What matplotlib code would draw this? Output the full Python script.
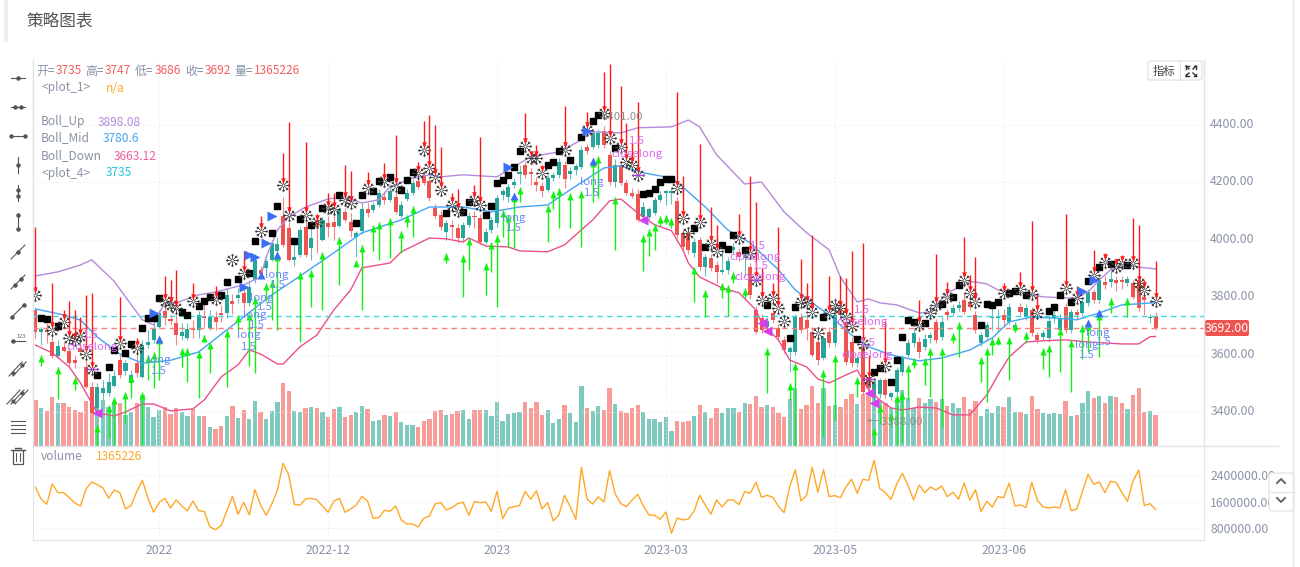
import math

import matplotlib
matplotlib.use('Agg')
import matplotlib.pyplot as plt
from matplotlib.markers import MarkerStyle
from matplotlib.patches import FancyBboxPatch, Rectangle
from matplotlib.path import Path
from matplotlib.transforms import ScaledTranslation

plt.rcParams['font.family'] = ['Noto Sans CJK SC', 'DejaVu Sans']

opens = [3756, 3679, 3686, 3645, 3595, 3628, 3613, 3581, 3622, 3556,
         3488, 3413, 3465, 3465, 3491, 3581, 3541, 3500, 3572, 3523,
         3634, 3651, 3697, 3750, 3723, 3709, 3663, 3657, 3692, 3686,
         3736, 3692, 3732, 3744, 3746, 3788, 3796, 3814, 3779, 3860,
         3895, 3900, 3930, 3960, 4081, 4040, 3930, 3947, 4046, 3970,
         4069, 4000, 4058, 4060, 4048, 4098, 4060, 4011, 4029, 4106,
         4104, 4121, 4150, 4139, 4148, 4081, 4141, 4162, 4203, 4226,
         4203, 4109, 4086, 4028, 4051, 4040, 4005, 4051, 4084, 4075,
         3993, 4034, 4057, 4156, 4150, 4190, 4229, 4260, 4237, 4202,
         4187, 4173, 4214, 4226, 4260, 4230, 4243, 4255, 4322, 4324,
         4330, 4377, 4295, 4202, 4260, 4197, 4164, 4159, 4080, 4080,
         4092, 4139, 4162, 4162, 4136, 4022, 4022, 3953, 3999, 3906,
         3935, 3912, 3889, 3895, 3964, 3958, 3935, 3906, 3755, 3726,
         3697, 3745, 3691, 3651, 3610, 3610, 3732, 3720, 3680, 3645,
         3587, 3680, 3639, 3755, 3715, 3645, 3569, 3627, 3523, 3453,
         3461, 3511, 3453, 3471, 3540, 3598, 3639, 3645, 3627, 3656,
         3715, 3662, 3749, 3744, 3761, 3790, 3784, 3738, 3639, 3662,
         3726, 3726, 3738, 3715, 3686, 3767, 3732, 3755, 3668, 3662,
         3656, 3726, 3686, 3767, 3686, 3749, 3744, 3779, 3819, 3790,
         3854, 3854, 3860, 3860, 3848, 3848, 3860, 3800, 3726, 3735]
closes = [3677, 3688, 3680, 3595, 3631, 3614, 3570, 3570, 3610, 3488,
          3396, 3486, 3483, 3504, 3527, 3529, 3570, 3529, 3535, 3634,
          3645, 3689, 3744, 3726, 3716, 3668, 3680, 3688, 3684, 3738,
          3726, 3732, 3715, 3738, 3808, 3776, 3808, 3779, 3837, 3930,
          3880, 3925, 3988, 3985, 3982, 3930, 3941, 4034, 3947, 4005,
          4046, 4069, 4046, 4044, 4104, 4069, 4029, 4023, 4106, 4092,
          4121, 4162, 4139, 4171, 4098, 4121, 4164, 4197, 4185, 4197,
          4145, 4084, 4046, 4057, 4046, 4005, 4051, 4084, 4078, 3993,
          4028, 4067, 4144, 4168, 4185, 4200, 4237, 4226, 4229, 4191,
          4168, 4214, 4226, 4272, 4210, 4240, 4257, 4313, 4310, 4371,
          4371, 4330, 4202, 4260, 4197, 4162, 4152, 4069, 4115, 4106,
          4139, 4156, 4168, 4168, 4017, 3976, 3964, 3993, 3906, 3939,
          3900, 3889, 3895, 3927, 3976, 3941, 3947, 3808, 3680, 3686,
          3718, 3720, 3660, 3616, 3622, 3730, 3686, 3691, 3598, 3581,
          3656, 3639, 3738, 3738, 3575, 3569, 3587, 3471, 3482, 3500,
          3511, 3459, 3465, 3546, 3587, 3639, 3674, 3610, 3654, 3668,
          3651, 3715, 3738, 3761, 3773, 3749, 3767, 3686, 3668, 3703,
          3732, 3732, 3720, 3767, 3703, 3749, 3761, 3674, 3651, 3674,
          3718, 3738, 3726, 3686, 3749, 3738, 3784, 3819, 3790, 3860,
          3842, 3862, 3848, 3854, 3862, 3802, 3761, 3790, 3732, 3692]
highs = [3761, 3697, 3709, 3668, 3651, 3645, 3628, 3599, 3639, 3576,
         3506, 3500, 3512, 3535, 3547, 3605, 3581, 3547, 3605, 3651,
         3686, 3709, 3756, 3779, 3738, 3738, 3709, 3709, 3721, 3750,
         3779, 3756, 3750, 3773, 3831, 3810, 3831, 3840, 3860, 3950,
         3910, 3935, 4000, 4010, 4150, 4060, 4011, 4045, 4060, 4046,
         4092, 4080, 4081, 4087, 4115, 4110, 4092, 4030, 4127, 4127,
         4130, 4175, 4170, 4185, 4165, 4135, 4175, 4210, 4225, 4240,
         4215, 4125, 4100, 4070, 4070, 4055, 4060, 4095, 4100, 4090,
         4040, 4080, 4155, 4175, 4195, 4215, 4260, 4270, 4250, 4220,
         4200, 4225, 4235, 4285, 4275, 4255, 4265, 4325, 4335, 4385,
         4385, 4395, 4310, 4280, 4275, 4210, 4180, 4175, 4133, 4115,
         4150, 4170, 4173, 4175, 4150, 4035, 4035, 4005, 4010, 3950,
         3950, 3925, 3964, 3940, 3990, 3970, 3960, 3920, 3770, 3740,
         3730, 3760, 3705, 3665, 3630, 3740, 3745, 3740, 3695, 3660,
         3665, 3695, 3750, 3770, 3730, 3660, 3600, 3640, 3545, 3510,
         3520, 3520, 3470, 3555, 3600, 3655, 3690, 3660, 3670, 3680,
         3725, 3730, 3760, 3775, 3785, 3810, 3800, 3750, 3680, 3715,
         3767, 3760, 3760, 3780, 3715, 3780, 3775, 3765, 3680, 3685,
         3730, 3760, 3740, 3780, 3760, 3760, 3795, 3830, 3830, 3875,
         3875, 3890, 3875, 3875, 3875, 3860, 3875, 3815, 3741, 3747]
lows = [3657, 3634, 3639, 3587, 3587, 3610, 3556, 3552, 3599, 3483,
        3396, 3396, 3442, 3454, 3488, 3517, 3529, 3483, 3523, 3517,
        3622, 3639, 3692, 3703, 3703, 3634, 3651, 3651, 3657, 3657,
        3697, 3686, 3686, 3715, 3726, 3740, 3779, 3760, 3770, 3850,
        3870, 3890, 3925, 3950, 3975, 3925, 3907, 3940, 3940, 3930,
        3953, 3995, 4011, 4000, 4045, 4060, 4011, 3941, 4020, 4080,
        4095, 4115, 4125, 4130, 4090, 4075, 4135, 4155, 4175, 4190,
        4135, 4075, 4035, 3999, 4005, 3990, 3995, 4045, 4040, 3985,
        3985, 4025, 4045, 4140, 4130, 4180, 4195, 4215, 4191, 4170,
        4150, 4165, 4205, 4215, 4179, 4210, 4225, 4245, 4300, 4315,
        4320, 4320, 4190, 4185, 4190, 4155, 4145, 4060, 4070, 4070,
        4085, 4130, 4121, 4125, 4005, 3965, 3950, 3940, 3895, 3872,
        3890, 3848, 3880, 3880, 3950, 3925, 3872, 3795, 3670, 3675,
        3690, 3710, 3650, 3605, 3540, 3600, 3675, 3650, 3590, 3564,
        3580, 3625, 3630, 3720, 3565, 3555, 3555, 3460, 3470, 3440,
        3450, 3450, 3440, 3460, 3530, 3590, 3625, 3587, 3615, 3640,
        3640, 3650, 3720, 3735, 3750, 3740, 3755, 3675, 3630, 3650,
        3686, 3680, 3700, 3705, 3680, 3735, 3720, 3665, 3640, 3650,
        3645, 3710, 3675, 3675, 3675, 3725, 3735, 3770, 3780, 3780,
        3830, 3835, 3820, 3830, 3840, 3795, 3750, 3738, 3709, 3686]
volumes = [2030000, 1680000, 1520000, 2130000, 1870000, 1870000, 1720000, 1560000, 1470000, 1980000,
           2190000, 2110000, 2010000, 1700000, 1950000, 1870000, 1380000, 1480000, 1900000, 2240000,
           1700000, 1280000, 1580000, 1700000, 1410000, 1650000, 1470000, 1320000, 1620000, 1330000,
           1300000, 840000, 760000, 880000, 1320000, 1760000, 1220000, 1580000, 1200000, 1960000,
           1500000, 1190000, 1530000, 1950000, 2750000, 2400000, 1520000, 1490000, 1680000, 1700000,
           1650000, 1470000, 1280000, 1610000, 1700000, 1280000, 1380000, 1500000, 1760000, 1620000,
           1100000, 1120000, 1340000, 1310000, 1470000, 1050000, 930000, 930000, 840000, 1100000,
           1170000, 1530000, 1570000, 1350000, 1420000, 1540000, 1580000, 1190000, 1600000, 1570000,
           1590000, 1310000, 1910000, 1090000, 1400000, 1450000, 1480000, 1910000, 1670000, 1930000,
           1380000, 1570000, 1020000, 1200000, 1790000, 1450000, 1070000, 2630000, 1670000, 1530000,
           1740000, 1590000, 2530000, 1830000, 1540000, 1450000, 1650000, 1820000, 1470000, 1200000,
           1190000, 1070000, 1290000, 650000, 1110000, 1050000, 1080000, 1310000, 1790000, 1500000,
           1220000, 1650000, 1440000, 1650000, 1650000, 1510000, 1900000, 1850000, 2180000, 1730000,
           1790000, 1730000, 1460000, 1270000, 2050000, 2560000, 1620000, 1790000, 2630000, 1880000,
           2560000, 1750000, 1780000, 1720000, 2040000, 2270000, 1850000, 2270000, 2240000, 2840000,
           1990000, 1870000, 1670000, 2120000, 2450000, 2100000, 1650000, 2100000, 1870000, 2040000,
           1950000, 2070000, 1750000, 1880000, 1670000, 2160000, 1640000, 1960000, 1300000, 1610000,
           1440000, 1750000, 1720000, 2160000, 1470000, 1500000, 1420000, 2180000, 1640000, 1440000,
           1410000, 1440000, 1410000, 1960000, 1330000, 1380000, 1900000, 2420000, 2120000, 2190000,
           1870000, 2210000, 2170000, 1880000, 1610000, 2220000, 2550000, 1480000, 1540000, 1365226]

# bollinger bands, as bar index / value pairs
up_bars = [0, 4, 8, 10, 14, 16, 19, 21, 22, 23, 25, 29, 32, 37, 40, 41, 43, 45, 48, 52, 55, 58, 61, 63,
           67, 70, 72, 76, 82, 84, 88, 93, 96, 99, 104, 107, 113, 116, 118, 121, 126, 129, 133, 137,
           141, 143, 146, 148, 150, 153, 157, 159, 162, 166, 167, 169, 171, 175, 179, 183, 185, 187,
           189, 191, 194, 199]
up_vals = [3874, 3888, 3912, 3930, 3855, 3801, 3721, 3703, 3745, 3780, 3780, 3808, 3818, 3843, 3870, 3940,
           4034, 4079, 4114, 4142, 4149, 4128, 4139, 4184, 4215, 4226, 4219, 4226, 4219, 4243, 4289,
           4306, 4337, 4376, 4372, 4390, 4393, 4417, 4393, 4296, 4194, 4201, 4097, 4024, 3965, 3870,
           3783, 3794, 3780, 3773, 3745, 3749, 3815, 3853, 3853, 3846, 3825, 3815, 3801, 3797, 3797,
           3818, 3860, 3895, 3909, 3898.08]
mid_bars = [0, 5, 8, 11, 15, 19, 24, 29, 34, 37, 42, 46, 53, 58, 65, 70, 76, 81, 86, 91, 95, 101, 104,
            108, 113, 115, 119, 123, 127, 132, 135, 139, 141, 145, 148, 152, 157, 161, 166, 170, 173,
            177, 181, 185, 189, 193, 199]
mid_vals = [3759, 3738, 3720, 3661, 3602, 3570, 3580, 3609, 3686, 3731, 3808, 3860, 3954, 4024, 4069,
            4114, 4114, 4097, 4114, 4121, 4174, 4250, 4257, 4233, 4215, 4184, 4114, 4034, 3989, 3895,
            3825, 3766, 3738, 3668, 3627, 3599, 3578, 3588, 3616, 3658, 3714, 3731, 3727, 3721, 3745,
            3773, 3780.6]
low_bars = [0, 3, 6, 8, 10, 11, 14, 16, 19, 21, 24, 28, 30, 33, 36, 38, 40, 43, 44, 47, 50, 53, 56, 58,
            63, 65, 70, 73, 76, 77, 80, 84, 86, 91, 94, 96, 99, 102, 104, 107, 110, 113, 115, 116, 118,
            122, 125, 128, 129, 132, 134, 137, 139, 141, 144, 146, 148, 150, 152, 154, 157, 160, 163,
            166, 169, 171, 173, 176, 179, 183, 187, 193, 196, 198, 199]
low_vals = [3633, 3606, 3557, 3501, 3431, 3397, 3386, 3400, 3428, 3428, 3404, 3411, 3442, 3522, 3564,
            3616, 3602, 3567, 3567, 3627, 3668, 3755, 3825, 3902, 3919, 3958, 4006, 4003, 3992, 4006,
            3978, 3975, 3961, 3958, 3982, 4017, 4069, 4135, 4142, 4093, 4052, 4031, 3965, 3919, 3870,
            3832, 3815, 3755, 3710, 3651, 3581, 3557, 3515, 3501, 3529, 3546, 3477, 3442, 3414, 3407,
            3417, 3414, 3390, 3390, 3459, 3529, 3592, 3644, 3648, 3651, 3644, 3637, 3637, 3662, 3663.12]

square_bars = [1, 2, 4, 11, 13, 14, 16, 17, 19, 20, 21, 22, 26, 27, 29, 30, 31, 33, 34, 36, 38, 39, 42, 43,
               46, 47, 49, 51, 54, 57, 58, 60, 61, 63, 65, 66, 67, 73, 76, 77, 80, 81, 82, 83, 84, 85, 86,
               91, 92, 93, 95, 97, 99, 100, 103, 108, 109, 110, 111, 112, 113, 117, 119, 122, 123, 124,
               126, 130, 134, 135, 140, 146, 149, 150, 152, 153, 154, 155, 156, 158, 161, 163, 164, 168,
               169, 170, 171, 173, 174, 176, 180, 181, 182, 184, 187, 189, 191, 194]
square_vals = [3729, 3723, 3700, 3529, 3555, 3616, 3607, 3637, 3694, 3726, 3726, 3796, 3747, 3737, 3769,
               3788, 3800, 3808, 3851, 3862, 3883, 3994, 4023, 4116, 3997, 4071, 4052, 4110, 4156, 4058,
               4156, 4171, 4205, 4218, 4174, 4208, 4235, 4092, 4096, 4133, 4085, 4119, 4199, 4208, 4226,
               4252, 4310, 4260, 4272, 4309, 4278, 4357, 4414, 4435, 4318, 4159, 4164, 4176, 4202, 4210,
               4210, 4040, 3974, 3982, 3968, 4017, 3964, 3773, 3659, 3767, 3732, 3653, 3540, 3552, 3506,
               3581, 3662, 3720, 3715, 3711, 3775, 3800, 3842, 3703, 3776, 3773, 3784, 3813, 3823, 3808,
               3752, 3765, 3808, 3784, 3857, 3904, 3916, 3911]
flake_bars = [0, 3, 5, 6, 7, 8, 9, 10, 15, 18, 23, 24, 25, 28, 32, 35, 37, 40, 44, 45, 48, 50, 52, 53, 55,
              56, 59, 62, 64, 68, 69, 70, 71, 72, 74, 75, 78, 79, 87, 88, 89, 90, 94, 98, 101, 102, 104,
              105, 106, 107, 114, 115, 116, 118, 120, 121, 125, 127, 128, 129, 131, 132, 133, 136, 137,
              138, 139, 141, 142, 143, 144, 145, 147, 148, 151, 157, 159, 160, 162, 165, 166, 167, 172,
              175, 177, 178, 183, 185, 188, 190, 192, 193, 195, 196, 197, 199]
flake_vals = [3808, 3686, 3715, 3657, 3650, 3663, 3602, 3549, 3639, 3622, 3785, 3773, 3761, 3785, 3793,
              3930, 3883, 4031, 4189, 4086, 4086, 4060, 4110, 4106, 4139, 4127, 4180, 4203, 4188, 4232,
              4313, 4249, 4220, 4173, 4121, 4100, 4139, 4121, 4327, 4284, 4284, 4231, 4313, 4382, 4440,
              4353, 4324, 4272, 4260, 4226, 4179, 4075, 4022, 4061, 3985, 3959, 4005, 3953, 3860, 3790,
              3796, 3761, 3718, 3784, 3778, 3749, 3674, 3744, 3773, 3761, 3732, 3700, 3636, 3514, 3560,
              3703, 3746, 3773, 3802, 3860, 3813, 3784, 3813, 3827, 3811, 3746, 3831, 3796, 3877, 3924,
              3906, 3918, 3918, 3848, 3825, 3788]
red_bars = [0, 3, 5, 6, 7, 8, 9, 10, 15, 18, 23, 24, 25, 28, 32, 37, 40, 44, 45, 48, 50, 52, 53, 55, 56, 59,
            62, 64, 68, 69, 70, 71, 72, 74, 75, 78, 79, 87, 88, 89, 90, 94, 98, 101, 102, 104, 105, 106,
            107, 114, 115, 118, 120, 121, 125, 127, 128, 129, 131, 132, 136, 137, 138, 141, 143, 144,
            145, 147, 148, 151, 157, 160, 162, 165, 166, 167, 172, 175, 177, 178, 183, 185, 188, 190,
            192, 193, 195, 196, 197, 199]
red_tops = [4046, 3848, 3756, 3788, 3755, 3732, 3808, 3814, 3802, 3657, 3874, 3860, 3893, 3848, 3840, 3959,
            4081, 4301, 4409, 4339, 4087, 4164, 4164, 4261, 4238, 4235, 4267, 4365, 4270, 4415, 4435,
            4400, 4324, 4162, 4176, 4191, 4359, 4440, 4300, 4330, 4260, 4466, 4446, 4583, 4612, 4536,
            4406, 4336, 4479, 4516, 4222, 4332, 4113, 4051, 4090, 4222, 4133, 3900, 3850, 4046, 3932,
            3850, 4017, 3872, 3872, 3866, 3959, 3988, 3598, 3718, 3790, 3949, 3854, 4009, 3877, 3941,
            3848, 3889, 4065, 3808, 4089, 3840, 3964, 3953, 3932, 3947, 4075, 4052, 3860, 3926]
green_bars = [1, 4, 7, 11, 13, 14, 16, 17, 19, 20, 21, 22, 26, 27, 29, 30, 31, 34, 36, 38, 39, 41, 42, 43,
              47, 49, 51, 54, 57, 58, 60, 61, 63, 65, 66, 67, 73, 76, 77, 80, 81, 82, 83, 84, 85, 86, 91,
              92, 93, 95, 97, 99, 100, 103, 108, 109, 110, 111, 112, 113, 117, 119, 122, 123, 124, 126,
              130, 134, 135, 140, 142, 146, 149, 150, 152, 153, 154, 155, 156, 158, 159, 161, 163, 164,
              168, 169, 170, 171, 173, 174, 176, 179, 180, 182, 184, 186, 187, 189, 191, 194]
green_tips = [3599, 3556, 3521, 3355, 3425, 3451, 3471, 3529, 3471, 3599, 3610, 3660, 3622, 3622, 3613,
              3668, 3645, 3686, 3738, 3744, 3802, 3850, 3860, 3951, 3889, 3895, 3957, 4009, 3930, 3982,
              4052, 4063, 4075, 4029, 4086, 4116, 3953, 3947, 4005, 3920, 3993, 4017, 4104, 4086, 4156,
              4185, 4121, 4168, 4179, 4162, 4168, 4278, 4292, 4150, 4017, 4037, 4054, 4084, 4086, 4077,
              3906, 3825, 3848, 3842, 3889, 3831, 3622, 3500, 3569, 3546, 3598, 3523, 3343, 3424, 3395,
              3459, 3471, 3564, 3587, 3587, 3622, 3622, 3674, 3714, 3593, 3622, 3656, 3660, 3662, 3709,
              3680, 3622, 3633, 3691, 3651, 3703, 3709, 3744, 3796, 3796]
green_tails = [3560, 3444, 3475, 3283, 3308, 3283, 3361, 3450, 3283, 3512, 3483, 3512, 3558, 3506, 3448,
               3645, 3537, 3488, 3686, 3560, 3535, 3785, 3721, 3686, 3645, 3767, 3755, 3843, 3907, 3755,
               3959, 3930, 3936, 3953, 4046, 4011, 3918, 3802, 3895, 3808, 3889, 3767, 4011, 3976, 3970,
               4133, 3991, 4106, 4040, 4042, 3974, 4133, 4144, 3964, 3891, 3945, 3964, 4049, 4055, 4040,
               3784, 3730, 3796, 3734, 3848, 3796, 3467, 3442, 3282, 3314, 3372, 3453, 3283, 3360, 3349,
               3283, 3291, 3442, 3552, 3494, 3453, 3349, 3639, 3593, 3506, 3436, 3598, 3633, 3511, 3680,
               3639, 3548, 3523, 3540, 3471, 3583, 3610, 3593, 3744, 3732]
entry_bars = [21, 37, 38, 39, 41, 42, 84, 98, 186, 188]
entry_vals = [3744, 3837, 3947, 3939, 3988, 4083, 4255, 4377, 3822, 3858]
long_bars = [22, 40, 43, 85, 99, 187, 189]
long_vals = [3653, 3877, 3947, 4152, 4274, 3709, 3746]
exit_bars = [11, 108, 129, 130, 148, 149]
exit_vals = [3396, 4069, 3711, 3682, 3465, 3430]
exit_flakes = [10, 107, 128, 148]

tick_bars = [22, 52, 82, 112, 142, 172]
tick_labels = ['2022', '2022-12', '2023', '2023-03', '2023-05', '2023-06']
price_ticks = [3400, 3600, 3800, 4000, 4200, 4400]
volume_ticks = [800000, 1600000, 2400000]

UP = '#26a69a'
DOWN = '#ef5350'
GRAY = '#8a93a6'
W, H = 1300, 567


def pane(left, top, right, bottom):
    return [left / W, 1 - bottom / H, (right - left) / W, (bottom - top) / H]


def offset_labels(labels, dx_px, dy_px):
    shift = ScaledTranslation(dx_px / 100, dy_px / 100, fig.dpi_scale_trans)
    for label in labels:
        label.set_transform(label.get_transform() + shift)


def snowflake_path():
    # eight spokes, each with a small fork near its end
    verts, codes = [], []
    for k in range(8):
        a = k * math.pi / 4
        verts += [(0.15 * math.cos(a), 0.15 * math.sin(a)), (math.cos(a), math.sin(a))]
        codes += [Path.MOVETO, Path.LINETO]
        fork = (0.62 * math.cos(a), 0.62 * math.sin(a))
        for side in (-0.6, 0.6):
            verts += [fork, (fork[0] + 0.3 * math.cos(a + side), fork[1] + 0.3 * math.sin(a + side))]
            codes += [Path.MOVETO, Path.LINETO]
    return Path(verts, codes)


fig = plt.figure(figsize=(13, 5.67), dpi=100, facecolor='white')
ax = fig.add_axes(pane(33, 60, 1204, 446))
ax_bars = ax.twinx()
ax_vol = fig.add_axes(pane(33, 446, 1204, 540))
overlay = fig.add_axes([0, 0, 1, 1], zorder=10)
overlay.set_xlim(0, W)
overlay.set_ylim(H, 0)
overlay.axis('off')

xs = list(range(len(closes)))
xlim = (-0.43, 207.6)

# volume columns sit under the candles
ax.set_zorder(2)
ax.patch.set_visible(False)
ax_bars.set_zorder(1)
ax_bars.set_ylim(0, 16930000)
ax_bars.set_yticks([])
bar_colors = ['#7fcabf' if c >= o else '#f89c9a' for o, c in zip(opens, closes)]
ax_bars.bar(xs, volumes, width=0.76, color=bar_colors)

ax.set_xlim(*xlim)
ax.set_ylim(3281.5, 4626)
ax.set_yticks(price_ticks)
ax.set_yticklabels(['%.2f' % p for p in price_ticks])
ax.set_xticks(tick_bars)
ax.tick_params(axis='x', length=0, labelbottom=False)
ax.yaxis.tick_right()
ax.tick_params(axis='y', length=0, pad=4.5, labelsize=8.8, labelcolor=GRAY)
ax.grid(True, color='#e9eaee', lw=0.8, ls=(0, (1, 2.5)))
ax.set_axisbelow(True)

# candles
colors = [UP if c >= o else DOWN for o, c in zip(opens, closes)]
ax.vlines(xs, lows, highs, colors=colors, lw=0.8, alpha=0.7, zorder=3)
bodies = [max(abs(c - o), 3) for o, c in zip(opens, closes)]
ax.bar(xs, bodies, bottom=[min(o, c) for o, c in zip(opens, closes)], width=0.72, color=colors, zorder=3)

# bands
ax.plot(up_bars, up_vals, color='#b48bdc', lw=1.0, zorder=4)
ax.plot(mid_bars, mid_vals, color='#42a5f5', lw=1.0, zorder=4)
ax.plot(low_bars, low_vals, color='#ec4f8e', lw=1.0, zorder=4)

# last open / last close guides
ax.axhline(opens[-1], color='#3fd8dc', lw=1.0, ls=(0, (4, 3)), zorder=5)
ax.axhline(closes[-1], color='#f77f7c', lw=1.0, ls=(0, (4, 3)), zorder=5)

# signal markers
ax.plot(square_bars, square_vals, ls='', marker='s', ms=4.7, color='black', zorder=6)
ax.plot(flake_bars, flake_vals, ls='', marker=snowflake_path(), ms=9.6, mfc='none', mec='#3a3a3a', mew=0.55, zorder=6)

head_down = Path([(0, 0), (-0.45, 1), (0.45, 1), (0, 0)], closed=True)
head_up = Path([(0, 0), (-0.45, -1), (0.45, -1), (0, 0)], closed=True)

# red arrows stop just above the flake centre
flake_y = dict(zip(flake_bars, flake_vals))
red_tips = [flake_y.get(b, highs[b]) + 9 for b in red_bars]
ax.vlines(red_bars, red_tips, red_tops, colors='#ff1a1a', lw=1.0, zorder=7)
ax.plot(red_bars, red_tips, ls='', marker=MarkerStyle(head_down), ms=7.5, color='#ff1a1a', mec='none', zorder=7)
ax.vlines(green_bars, green_tails, green_tips, colors='#12f012', lw=1.0, zorder=7)
ax.plot(green_bars, green_tips, ls='', marker=MarkerStyle(head_up), ms=10, color='#12f012', mec='none', zorder=7)

ax.plot(entry_bars, entry_vals, ls='', marker='>', ms=6.5, color='#3c6ef5', mec='none', zorder=8)
ax.plot(long_bars, long_vals, ls='', marker=MarkerStyle('^'), ms=5.5, color='#3c6ef5', mec='none', zorder=8)
ax.plot(exit_bars, exit_vals, ls='', marker='<', ms=6.5, color='#d63cf0', mec='none', zorder=8)
ax.plot(exit_flakes, [flake_y[b] for b in exit_flakes], ls='', marker='_', ms=9, mew=1.0, color='#b03ce0', zorder=8)

for side in ('top', 'left', 'bottom', 'right'):
    ax.spines[side].set_visible(False)
    ax_bars.spines[side].set_visible(False)
    ax_vol.spines[side].set_color('#e2e3e8')
ax_vol.spines['top'].set_visible(False)

# volume line pane
ax_vol.plot(xs, volumes, color='#ffa726', lw=1.0)
ax_vol.set_xlim(*xlim)
ax_vol.set_ylim(448000, 3270000)
ax_vol.set_yticks(volume_ticks)
ax_vol.set_yticklabels(['%.2f' % v for v in volume_ticks])
ax_vol.yaxis.tick_right()
ax_vol.set_xticks(tick_bars)
ax_vol.set_xticklabels(tick_labels)
ax_vol.tick_params(axis='x', length=0, pad=3, labelsize=8.8, labelcolor=GRAY)
ax_vol.tick_params(axis='y', length=0, pad=4.5, labelsize=8.8, labelcolor=GRAY)
ax_vol.grid(True, color='#e9eaee', lw=0.8, ls=(0, (1, 2.5)))
ax_vol.set_axisbelow(True)
fig.canvas.draw()
offset_labels(ax.get_yticklabels(), 0, 2)

# page furniture
overlay.add_patch(Rectangle((4, 0), 4, 42, color='#eeeeee', lw=0))
overlay.text(26, 21, '策略图表', fontsize=12, color='#555555', va='center')
overlay.plot([1293, 1293], [0, H], color='#e4e4e4', lw=1)
overlay.plot([33, 1278], [446, 446], color='#e2e3e8', lw=1)
overlay.plot([33, 33], [60, 446], color='#e2e3e8', lw=1)
overlay.plot([1204, 1204], [60, 446], color='#e2e3e8', lw=1)

RED_TXT = '#f4605e'
for x, label, color in [(36, '开=', GRAY), (55.5, '3735', RED_TXT), (85, '高=', GRAY), (105, '3747', RED_TXT),
                        (135, '低=', GRAY), (155, '3686', RED_TXT), (185, '收=', GRAY), (205, '3692', RED_TXT),
                        (234, '量=', GRAY), (254, '1365226', RED_TXT)]:
    overlay.text(x, 71, label, fontsize=8.6, color=color, va='center')
overlay.text(42, 88, '<plot_1>', fontsize=8.6, color=GRAY, va='center')
overlay.text(106, 88, 'n/a', fontsize=8.6, color='#ffa726', va='center')
for y, name, nx, value, color in [(122, 'Boll_Up', 98, '3898.08', '#b48bdc'), (138, 'Boll_Mid', 103, '3780.6', '#42a5f5'),
                                  (156, 'Boll_Down', 114, '3663.12', '#ec5f9b'), (173, '<plot_4>', 106, '3735', '#26c6da'),
                                  (456, 'volume', 96, '1365226', '#ffa726')]:
    overlay.text(41, y, name, fontsize=8.6, color=GRAY, va='center')
    overlay.text(nx, y, value, fontsize=8.6, color=color, va='center')

for x, y, label in [(159, 360, 'long'), (159, 371, '1.5'), (277, 275, 'long'), (278, 285, '1.5'), (262, 298, 'long'),
                    (265, 307, '1.5'), (255, 315, 'long'), (257, 325, '1.5'), (249, 335, 'long'), (249, 347, '1.5'),
                    (514, 218, 'long'), (514, 228, '1.5'), (592, 182, 'long'), (592, 193, '1.5'), (1098, 333, 'long'),
                    (1104, 342, '1.5'), (1087, 345, 'long'), (1087, 355, '1.5')]:
    overlay.text(x, y, label, fontsize=8.2, color='#6d8df5', ha='center', va='center')
for x, y, label in [(91, 335, '1.5'), (92, 347, 'closelong'), (637, 141, '1.5'), (637, 154, 'closelong'),
                    (758, 246, '1.5'), (755, 257, 'closelong'), (761, 266, '1.5'), (760, 277, 'closelong'),
                    (862, 310, '1.5'), (862, 322, 'closelong'), (868, 343, '1.5'), (867, 355, 'closelong')]:
    overlay.text(x, y, label, fontsize=8.2, color='#d96cf0', ha='center', va='center')
overlay.text(622, 117, '4401.00', fontsize=8.2, color='#8c8c8c', ha='center', va='center')
overlay.text(895, 422, '\u2190 3388.00', fontsize=8.2, color='#8c8c8c', ha='center', va='center')

# last price tag
overlay.add_patch(FancyBboxPatch((1205, 320), 44, 16, boxstyle='round,pad=0,rounding_size=2', fc='#ef5350', ec='none'))
overlay.text(1227, 328, '%.2f' % closes[-1], fontsize=8.8, color='white', ha='center', va='center')

# indicator and fullscreen buttons
overlay.add_patch(FancyBboxPatch((1148, 61), 54, 19, boxstyle='round,pad=0,rounding_size=2', fc='white', ec='#dddddd', lw=0.8))
overlay.plot([1180, 1180], [61, 80], color='#dddddd', lw=0.8)
overlay.text(1164, 71, '指标', fontsize=8.2, color='#444444', ha='center', va='center')
for sx, sy in [(-1, -1), (1, -1), (-1, 1), (1, 1)]:
    overlay.plot([1191 + sx * 2, 1191 + sx * 5], [71 + sy * 2, 71 + sy * 5], color='#333333', lw=1)
    overlay.plot([1191 + sx * 5, 1191 + sx * 2.5], [71 + sy * 5, 71 + sy * 5], color='#333333', lw=1)
    overlay.plot([1191 + sx * 5, 1191 + sx * 5], [71 + sy * 5, 71 + sy * 2.5], color='#333333', lw=1)

# paging box beside the volume scale
overlay.add_patch(FancyBboxPatch((1269, 473), 25, 38, boxstyle='round,pad=0,rounding_size=3', fc='white', ec='#e0e0e0', lw=0.8))
overlay.plot([1269, 1294], [492, 492], color='#e0e0e0', lw=0.8)
overlay.plot([1277, 1281, 1285], [483, 479, 483], color='#666666', lw=1.4)
overlay.plot([1277, 1281, 1285], [498, 502, 498], color='#666666', lw=1.4)

# drawing tool strip
INK = '#555555'
for y, dots in [(78, [18]), (107, [15, 21]), (136, [11, 25])]:
    overlay.plot([11, 25], [y, y], color=INK, lw=0.8)
    overlay.plot(dots, [y] * len(dots), ls='', marker='o', ms=2.2, color=INK)
for y, dots in [(165, [0]), (193, [-3, 3]), (222, [-7, 7])]:
    overlay.plot([18, 18], [y - 8, y + 8], color=INK, lw=0.8)
    overlay.plot([18] * len(dots), [y + d for d in dots], ls='', marker='o', ms=2.2, color=INK)
for y, dots in [(252, [0]), (282, [-3, 3]), (311, [-6, 6])]:
    overlay.plot([11, 25], [y + 7, y - 7], color=INK, lw=0.8)
    overlay.plot([18 + d for d in dots], [y - d for d in dots], ls='', marker='o', ms=2.2, color=INK)
overlay.plot([11, 25], [341, 341], color=INK, lw=0.8)
overlay.plot([13], [341], ls='', marker='o', ms=2.2, color=INK)
overlay.text(21, 337, '123', fontsize=4, color=INK, ha='center', va='center')
for y, count in [(369, 2), (397, 3)]:
    for k in range(count):
        d = (k - (count - 1) / 2) * 4
        overlay.plot([11 + d, 24 + d], [y + 7, y - 7], color=INK, lw=0.8)
    overlay.plot([13, 22], [y + 4, y - 4], ls='', marker='o', ms=2, color=INK)
for y in (421, 425, 429, 433):
    overlay.plot([11, 25], [y, y], color=INK, lw=0.8)
overlay.plot([11, 25], [450, 450], color=INK, lw=1)
overlay.plot([15, 21], [448, 448], color=INK, lw=1)
overlay.add_patch(Rectangle((13, 450), 10, 14, fc='none', ec=INK, lw=0.9))
overlay.plot([16, 16], [453, 461], color=INK, lw=0.7)
overlay.plot([20, 20], [453, 461], color=INK, lw=0.7)

fig.savefig('out.png', dpi=100, facecolor='white')
